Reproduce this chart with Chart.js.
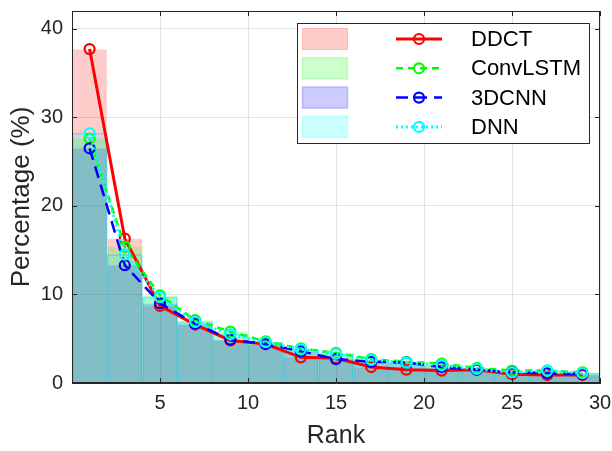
<!DOCTYPE html>
<html lang="en">
<head>
  <meta charset="UTF-8" />
  <title>Rank distribution</title>
  <script src="https://cdn.jsdelivr.net/npm/chart.js"></script>
  <style>
    body { margin: 0; padding: 0; background: #fff; }
    #wrap { width: 612px; height: 451px; }
  </style>
</head>
<body>
  <div id="wrap"><canvas id="rankChart" width="612" height="451"></canvas></div>

  <script>
    // data
    const ranks = [1, 3, 5, 7, 9, 11, 13, 15, 17, 19, 21, 23, 25, 27, 29];
    const ddct = [37.7, 16.3, 8.7, 6.6, 4.8, 4.4, 2.9, 2.8, 1.8, 1.5, 1.4, 1.5, 1.0, 0.9, 0.9];
    const convlstm = [27.6, 15.4, 9.9, 7.1, 5.8, 4.7, 3.9, 3.4, 2.7, 2.4, 2.2, 1.7, 1.4, 1.4, 1.2];
    const cnn3d = [26.5, 13.3, 9.0, 6.7, 4.9, 4.4, 3.6, 2.7, 2.4, 2.3, 1.8, 1.5, 1.2, 1.1, 1.0];
    const dnn = [28.2, 14.5, 9.7, 6.9, 5.5, 4.6, 3.8, 3.3, 2.6, 2.3, 2.0, 1.6, 1.2, 1.4, 1.1];
    const xTicks = [5, 10, 15, 20, 25, 30];
    const yTicks = [0, 10, 20, 30, 40];

    const names = ['DDCT', 'ConvLSTM', '3DCNN', 'DNN'];
    const series = [ddct, convlstm, cnn3d, dnn];
    const rgb = ['255,0,0', '0,255,0', '0,0,255', '0,255,255'];
    const edges = ['rgba(255,0,0,0.06)', 'rgba(0,255,0,0.06)', 'rgba(0,0,255,0.06)', 'rgba(0,190,215,0.35)'];
    const dashes = [[], [7, 5], [12, 7], [2, 3]];
    const widths = [3, 2.5, 2.5, 3];

    const FONT = "'Liberation Sans', Arial, sans-serif";
    const INK = '#262626';

    function pts(vals) {
      return ranks.map((r, i) => ({ x: r, y: vals[i] }));
    }

    const datasets = [];
    series.forEach((vals, i) => {
      datasets.push({
        type: 'bar',
        label: names[i] + ' bar',
        data: pts(vals),
        backgroundColor: 'rgba(' + rgb[i] + ',0.2)',
        borderColor: edges[i],
        borderWidth: 1,
        barPercentage: 1,
        categoryPercentage: 1,
        grouped: false,
        order: 8 - i
      });
    });
    series.forEach((vals, i) => {
      datasets.push({
        type: 'line',
        label: names[i],
        data: pts(vals),
        borderColor: 'rgb(' + rgb[i] + ')',
        borderWidth: widths[i],
        borderDash: dashes[i],
        pointStyle: 'circle',
        pointRadius: 5,
        pointBorderWidth: 2.2,
        pointBackgroundColor: 'rgba(0,0,0,0)',
        pointBorderColor: 'rgb(' + rgb[i] + ')',
        tension: 0,
        fill: false,
        order: 4 - i
      });
    });

    // frame, inward ticks and the two-column legend
    const framePlugin = {
      id: 'frame',
      afterDraw(chart) {
        const ctx = chart.ctx;
        const a = chart.chartArea;
        const xs = chart.scales.x, ys = chart.scales.y;
        ctx.save();
        ctx.strokeStyle = INK;
        ctx.lineWidth = 1;
        ctx.strokeRect(a.left + 0.5, a.top + 0.5, a.right - a.left - 1, a.bottom - a.top - 1);
        ctx.beginPath();
        xTicks.forEach(v => {
          const px = Math.round(xs.getPixelForValue(v)) + 0.5;
          ctx.moveTo(px, a.bottom); ctx.lineTo(px, a.bottom - 5);
          ctx.moveTo(px, a.top); ctx.lineTo(px, a.top + 5);
        });
        yTicks.forEach(v => {
          const py = Math.round(ys.getPixelForValue(v)) + 0.5;
          ctx.moveTo(a.left, py); ctx.lineTo(a.left + 5, py);
          ctx.moveTo(a.right, py); ctx.lineTo(a.right - 5, py);
        });
        ctx.stroke();

        // legend
        const bx = 297, by = 23, bw = 292, bh = 120;
        ctx.fillStyle = '#fff';
        ctx.fillRect(bx, by, bw, bh);
        ctx.strokeStyle = INK;
        ctx.strokeRect(bx + 0.5, by + 0.5, bw, bh);
        names.forEach((name, i) => {
          const cy = 39 + i * 29.3;
          ctx.fillStyle = 'rgba(' + rgb[i] + ',0.2)';
          ctx.fillRect(302, cy - 11, 46, 22);
          ctx.strokeStyle = 'rgba(' + rgb[i] + ',0.1)';
          ctx.strokeRect(302.5, cy - 10.5, 45, 21);

          ctx.strokeStyle = 'rgb(' + rgb[i] + ')';
          ctx.lineWidth = widths[i];
          ctx.setLineDash(dashes[i]);
          ctx.beginPath();
          ctx.moveTo(396, cy); ctx.lineTo(442, cy);
          ctx.stroke();
          ctx.setLineDash([]);
          ctx.lineWidth = 2.2;
          ctx.beginPath();
          ctx.arc(419, cy, 5, 0, Math.PI * 2);
          ctx.stroke();

          ctx.fillStyle = '#000';
          ctx.font = '22px ' + FONT;
          ctx.textBaseline = 'middle';
          ctx.textAlign = 'left';
          ctx.fillText(name, 471, cy + 1);
        });
        ctx.restore();
      }
    };

    new Chart(document.getElementById('rankChart').getContext('2d'), {
      type: 'bar',
      data: { datasets: datasets },
      options: {
        responsive: false,
        animation: false,
        layout: { padding: { top: 11, right: 12, left: 0, bottom: 0 } },
        plugins: { legend: { display: false }, tooltip: { enabled: false } },
        scales: {
          x: {
            type: 'linear',
            min: 0,
            max: 30,
            offset: false,
            grid: { color: '#e3e3e3', drawTicks: false, offset: false },
            border: { display: true, color: INK },
            afterBuildTicks: s => { s.ticks = xTicks.map(v => ({ value: v })); },
            afterFit: s => { s.height = 68; s.paddingLeft = 0; s.paddingRight = 0; },
            ticks: { color: INK, padding: 8, font: { family: FONT, size: 20 } },
            title: {
              display: true, text: 'Rank', color: INK,
              font: { family: FONT, size: 25 }, padding: { top: 0, bottom: 0 }
            }
          },
          y: {
            min: 0,
            max: 42,
            grid: { color: '#e3e3e3', drawTicks: false },
            border: { display: true, color: INK },
            afterBuildTicks: s => { s.ticks = yTicks.map(v => ({ value: v })); },
            afterFit: s => { s.width = 72; s.paddingTop = 0; s.paddingBottom = 0; },
            ticks: { color: INK, padding: 9, font: { family: FONT, size: 20 } },
            title: {
              display: true, text: 'Percentage (%)', color: INK,
              font: { family: FONT, size: 26 }, padding: { top: 6, bottom: 0 }
            }
          }
        }
      },
      plugins: [framePlugin]
    });
  </script>
</body>
</html>
